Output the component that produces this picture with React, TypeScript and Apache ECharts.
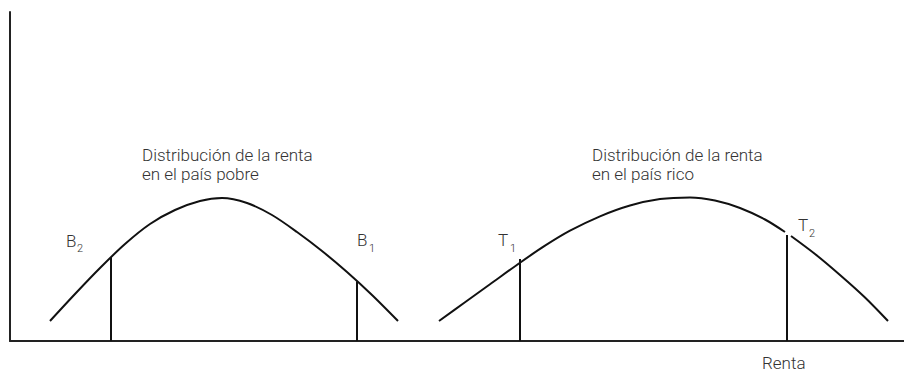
import React, { useEffect, useRef } from "react";
import * as echarts from "echarts";

// Curve samples (x, y) in chart units: x = horizontal position, y = density height
const poorCurve: [number, number][] = [
  [40, 20], [65, 47], [90, 73], [115, 97], [140, 117], [165, 131], [190, 140], [212, 143],
  [237, 138], [262, 126], [287, 109], [312, 90], [337, 69], [362, 46], [388, 20],
];
const richCurveA: [number, number][] = [
  [429, 20], [455, 38.7], [480, 56.7], [510, 78.3], [535, 95.3], [560, 110.3], [590, 124.7],
  [620, 135.5], [650, 142], [680, 143.6], [705, 140.5], [730, 133], [755, 121.5], [775, 109],
];
const richCurveB: [number, number][] = [
  [781, 105], [805, 87], [830, 66], [855, 43.5], [878, 20],
];
// Threshold lines: x position and height
const thresholds: { name: string; x: number; top: number }[] = [
  { name: "B2", x: 101, top: 84 },
  { name: "B1", x: 347, top: 59.5 },
  { name: "T1", x: 510, top: 82 },
  { name: "T2", x: 777, top: 106 },
];
const titlePoor = ["Distribución de la renta", "en el país pobre"];
const titleRich = ["Distribución de la renta", "en el país rico"];
const axisName = "Renta";

const FONT = "Roboto";
const TXT = "#333";

export default function App() {
  const ref = useRef<HTMLDivElement>(null);
  useEffect(() => {
    if (!ref.current) return;
    const chart = echarts.init(ref.current, undefined, { renderer: "svg" });
    const lineStyle = { color: "#111", width: 2 };
    const series: any[] = [
      { type: "line", data: poorCurve, smooth: 0.3, showSymbol: false, lineStyle },
      { type: "line", data: richCurveA, smooth: 0.3, showSymbol: false, lineStyle },
      { type: "line", data: richCurveB, smooth: 0.3, showSymbol: false, lineStyle },
      ...thresholds.map((t) => ({
        type: "line",
        data: [[t.x, 0], [t.x, t.top]],
        showSymbol: false,
        lineStyle,
      })),
    ];
    const txt = (text: string, x: number, y: number, size: number) => ({
      type: "text",
      x,
      y,
      style: {
        text,
        fontFamily: FONT,
        fontWeight: 300,
        fontSize: size,
        fill: TXT,
        verticalAlign: "middle",
        align: "left",
      },
    });
    const graphic: any[] = [
      txt(titlePoor[0], 142, 155, 17),
      txt(titlePoor[1], 142, 174, 17),
      txt(titleRich[0], 592, 155, 17),
      txt(titleRich[1], 592, 174, 17),
      txt("B", 66, 241, 17), txt("2", 77, 248, 11),
      txt("B", 357, 240, 17), txt("1", 369, 248, 11),
      txt("T", 498, 240, 17), txt("1", 510, 248, 11),
      txt("T", 798, 225, 17), txt("2", 809, 233, 11),
      txt(axisName, 762, 363, 17),
    ];
    chart.setOption({
      animation: false,
      grid: { left: 10, right: 0, top: 12, bottom: 32 },
      xAxis: {
        type: "value",
        min: 0,
        max: 894,
        axisLine: { show: true, onZero: false, lineStyle: { color: "#222", width: 2 } },
        axisTick: { show: false },
        axisLabel: { show: false },
        splitLine: { show: false },
      },
      yAxis: {
        type: "value",
        min: 0,
        max: 329,
        axisLine: { show: true, onZero: false, lineStyle: { color: "#222", width: 2 } },
        axisTick: { show: false },
        axisLabel: { show: false },
        splitLine: { show: false },
      },
      series,
      graphic,
    });
    return () => chart.dispose();
  }, []);
  return (
    <div
      ref={ref}
      style={{ position: "absolute", left: 0, top: 0, width: 904, height: 373, background: "#fff" }}
    />
  );
}
